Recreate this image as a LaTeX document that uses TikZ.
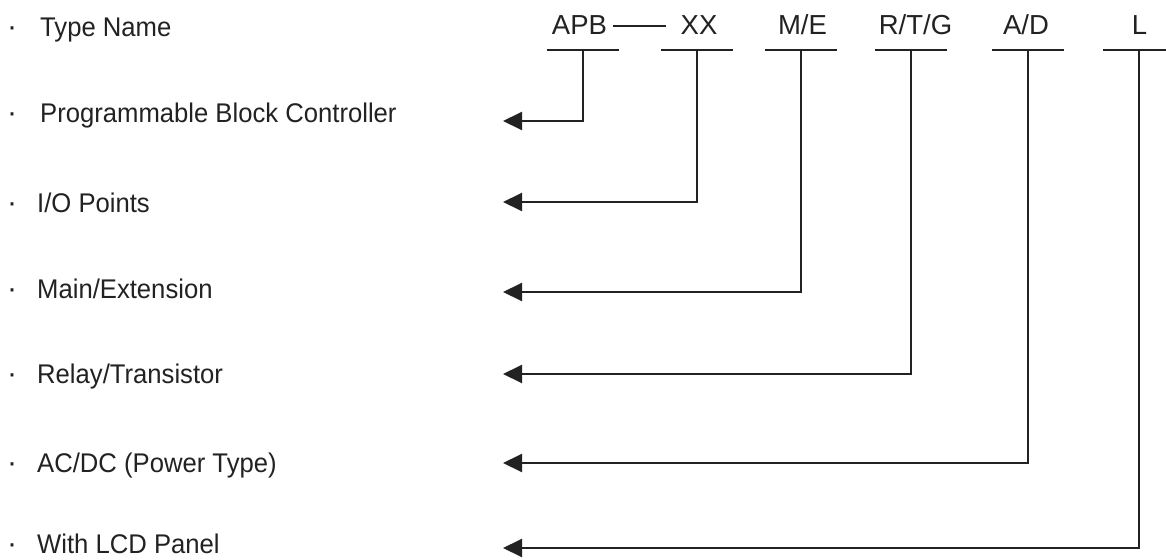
\documentclass[tikz,border=0pt]{standalone}
\usepackage{fontspec}
\setmainfont{Liberation Sans}
\newfontfamily\narrowfont[FakeStretch=0.95]{Liberation Sans}
\usetikzlibrary{arrows.meta}
\definecolor{ink}{HTML}{222222}
\begin{document}
\begin{tikzpicture}[x=1pt,y=-1pt,
  lbl/.style={inner sep=0pt,anchor=base west,font=\narrowfont\fontsize{27}{30}\selectfont,text=ink},
  dot/.style={inner sep=0pt,anchor=base,font=\fontsize{30}{30}\selectfont,text=ink},
  code/.style={inner sep=0pt,anchor=base,font=\fontsize{27.5}{32}\selectfont,text=ink},
  bar/.style={draw=ink,line width=2pt},
  conn/.style={draw=ink,line width=2pt,-{Triangle[length=19pt,width=18pt]}}]
\useasboundingbox (0,0) rectangle (1166,559);
% left labels
\node[dot] (b0) at (12,37) {·};
\node[lbl] (t0) at (40,37) {Type Name};
\node[dot] (b1) at (12,123) {·};
\node[lbl] (t1) at (40,123) {Programmable Block Controller};
\node[dot] (b2) at (12,212) {·};
\node[lbl] (t2) at (37,212) {I/O Points};
\node[dot] (b3) at (12,298) {·};
\node[lbl] (t3) at (37,298) {Main/Extension};
\node[dot] (b4) at (12,383) {·};
\node[lbl] (t4) at (37,383) {Relay/Transistor};
\node[dot] (b5) at (12,472) {·};
\node[lbl] (t5) at (37,472) {AC/DC (Power Type)};
\node[dot] (b6) at (12,553) {·};
\node[lbl] (t6) at (37,553) {With LCD Panel};
% code labels
\node[code] (c1) at (579.5,35) {APB};
\node[code] (c2) at (699,35) {XX};
\node[code] (c3) at (802.5,35) {M/E};
\node[code] (c4) at (915.5,35) {R/T/G};
\node[code] (c5) at (1026,35) {A/D};
\node[code] (c6) at (1139.5,35) {L};
\draw[draw=ink,line width=1.6pt] ([xshift=6pt,yshift=9pt]c1.base east) -- ([xshift=-14pt,yshift=9pt]c2.base west);
% bars
\coordinate (m1) at (582.5,50);
\coordinate (m2) at (697,50);
\coordinate (m3) at (801,50);
\coordinate (m4) at (911,50);
\coordinate (m5) at (1027.5,50);
\coordinate (m6) at (1139,50);
\foreach \i in {1,...,6} {\draw[bar] ([xshift=-36pt]m\i) -- ([xshift=36pt]m\i);}
% arrow ends
\coordinate (e1) at (503,121);
\coordinate (e2) at (503,202);
\coordinate (e3) at (503,292);
\coordinate (e4) at (503,374);
\coordinate (e5) at (503,463);
\coordinate (e6) at (503,548);
\foreach \i in {1,...,6} {\draw[conn] (m\i) |- (e\i);}
\end{tikzpicture}
\end{document}
